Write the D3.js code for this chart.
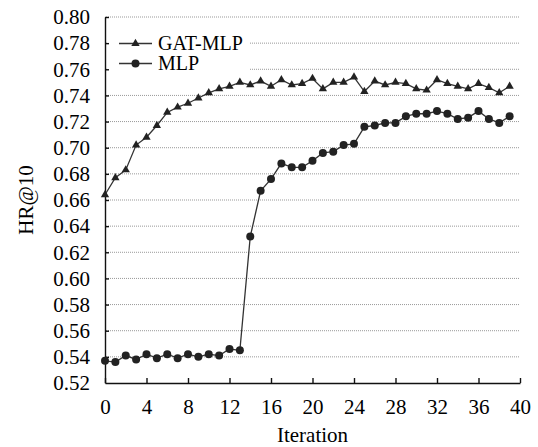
<!DOCTYPE html>
<html lang="en">
<head>
<meta charset="UTF-8">
<title>HR@10 vs Iteration</title>
<script src="https://cdnjs.cloudflare.com/ajax/libs/d3/7.9.0/d3.min.js"></script>
<style>
  body{margin:0;background:#fff;}
  svg, svg text{font-family:"Liberation Serif","Times New Roman",Times,serif !important;}
</style>
</head>
<body>
<div id="chart"></div>
<script>
/* ---------- data ---------- */
const iterations = d3.range(0, 40);
const gatMlp = [0.664,0.677,0.683,0.702,0.708,0.717,0.727,0.731,0.734,0.738,
                0.742,0.745,0.747,0.750,0.748,0.751,0.747,0.752,0.748,0.749,
                0.753,0.745,0.750,0.750,0.754,0.743,0.751,0.748,0.750,0.749,
                0.745,0.744,0.752,0.749,0.747,0.745,0.749,0.746,0.742,0.747];
const mlp    = [0.537,0.536,0.541,0.538,0.542,0.539,0.542,0.539,0.542,0.540,
                0.542,0.541,0.546,0.545,0.632,0.667,0.676,0.688,0.685,0.685,
                0.690,0.696,0.697,0.702,0.703,0.716,0.717,0.719,0.719,0.724,
                0.726,0.726,0.728,0.726,0.722,0.723,0.728,0.722,0.719,0.724];
const xTicks = [0,4,8,12,16,20,24,28,32,36,40];
const yTicks = [0.52,0.54,0.56,0.58,0.60,0.62,0.64,0.66,0.68,0.70,0.72,0.74,0.76,0.78,0.80];
const seriesNames = ["GAT-MLP","MLP"];

/* ---------- layout ---------- */
const W = 538, H = 447;
const mL = 105, mR = 520, mT = 17, mB = 383;
const fs = 21;

const svg = d3.select("#chart").append("svg").attr("width",W).attr("height",H);

const x = d3.scaleLinear().domain([0,40]).range([mL,mR]);
const y = d3.scaleLinear().domain([0.52,0.80]).range([mB,mT]);

// dotted grid
svg.append("g").selectAll("line")
  .data(yTicks.filter(d=>d>0.52))
  .enter().append("line")
    .attr("x1",mL+1).attr("x2",mR)
    .attr("y1",d=>y(d)).attr("y2",d=>y(d))
    .attr("stroke","#999").attr("stroke-width",1)
    .attr("stroke-dasharray","1,1");

// legend background hides the grid behind it
svg.append("rect").attr("x",mL+2).attr("y",28).attr("width",142).attr("height",50).attr("fill","#fff");

// axes
const xAxis = svg.append("g").attr("transform",`translate(0,${mB})`)
  .call(d3.axisBottom(x).tickValues(xTicks).tickSizeInner(-5).tickSizeOuter(0).tickPadding(16).tickFormat(d3.format("d")));
const yAxis = svg.append("g").attr("transform",`translate(${mL},0)`)
  .call(d3.axisLeft(y).tickValues(yTicks).tickSizeInner(-4).tickSizeOuter(0).tickPadding(15).tickFormat(d3.format(".2f")));
[xAxis,yAxis].forEach(g=>{
  g.attr("font-family",null).attr("font-size",fs);
  g.selectAll("text").attr("fill","#000");
  g.selectAll("line,path").attr("stroke","#111").attr("stroke-width",1.4);
});
yAxis.selectAll(".tick").filter(d=>d===0.52).select("line").remove();

// lines
const line = d3.line().x((d,i)=>x(iterations[i])).y(d=>y(d));
svg.append("path").datum(gatMlp).attr("d",line).attr("fill","none").attr("stroke","#333").attr("stroke-width",1.3);
svg.append("path").datum(mlp).attr("d",line).attr("fill","none").attr("stroke","#333").attr("stroke-width",1.3);

const tri = d3.symbol().type(d3.symbolTriangle).size(30);
svg.append("g").selectAll("path").data(gatMlp).enter().append("path")
  .attr("d",tri).attr("transform",(d,i)=>`translate(${x(iterations[i])},${y(d)})`).attr("fill","#222");
svg.append("g").selectAll("circle").data(mlp).enter().append("circle")
  .attr("cx",(d,i)=>x(iterations[i])).attr("cy",d=>y(d)).attr("r",4).attr("fill","#222");

// legend
const lg = svg.append("g");
seriesNames.forEach((name,k)=>{
  const ly = 43.5 + k*20;
  lg.append("line").attr("x1",119).attr("x2",152).attr("y1",ly).attr("y2",ly).attr("stroke","#333").attr("stroke-width",1.3);
  if(k===0) lg.append("path").attr("d",tri).attr("transform",`translate(135.5,${ly})`).attr("fill","#222");
  else lg.append("circle").attr("cx",135.5).attr("cy",ly).attr("r",4).attr("fill","#222");
  lg.append("text").attr("x",158).attr("y",ly+6.5).attr("font-size",20).attr("fill","#000").text(name);
});

// axis titles
svg.append("text").attr("x",(mL+mR)/2).attr("y",442).attr("text-anchor","middle")
  .attr("font-size",fs).attr("fill","#000").text("Iteration");
svg.append("text").attr("transform","translate(33,200) rotate(-90)").attr("text-anchor","middle")
  .attr("font-size",fs).attr("fill","#000").text("HR@10");
</script>
</body>
</html>
